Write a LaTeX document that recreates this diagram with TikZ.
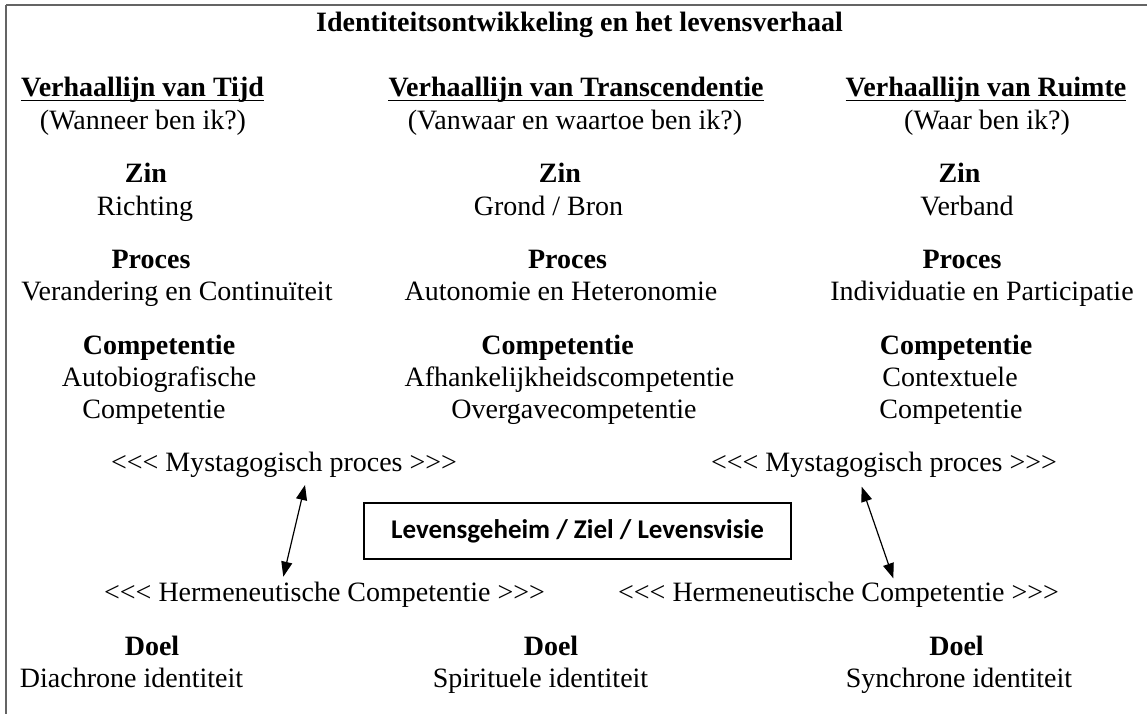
\documentclass[tikz,border=0pt]{standalone}
\usepackage{fontspec}
\setmainfont{Liberation Serif}
\newfontfamily\boxfont{Carlito}
\usetikzlibrary{arrows.meta}
\definecolor{framegray}{RGB}{100,100,100}
\begin{document}
\begin{tikzpicture}[x=1pt,y=-1pt,
  txt/.style={inner sep=0pt,anchor=base,font=\fontsize{28}{32}\selectfont},
  bld/.style={txt,font=\fontsize{28}{32}\selectfont\bfseries},
  ulbox/.style={line width=1.6pt},
  centerbox/.style={draw,line width=1.5pt,minimum width=427pt,minimum height=56pt,inner sep=0pt,
    font=\fontsize{27}{30}\selectfont\boxfont\bfseries},
  dbl/.style={line width=1.2pt,{Triangle[length=15pt,width=11pt]}-{Triangle[length=15pt,width=11pt]}},
  frame/.style={draw=framegray,line width=2pt}]
\useasboundingbox (0,0) rectangle (1147,714);
\draw[frame] (6,5) -- (1147,5);
\draw[frame] (6,5) -- (6,714);

\node[bld] (title) at (579.5,31.7) {Identiteitsontwikkeling en het levensverhaal};

\node[bld] (h1) at (142.5,97) {Verhaallijn van Tijd};
\node[bld] (h2) at (576,97) {Verhaallijn van Transcendentie};
\node[bld] (h3) at (986,97) {Verhaallijn van Ruimte};
\foreach \n in {h1,h2,h3}{\draw[ulbox] ([yshift=-3.5pt]\n.base west) -- ([yshift=-3.5pt]\n.base east);}

\node[txt] (s1) at (143,129.3) {(Wanneer ben ik?)};
\node[txt] (s2) at (575,129.3) {(Vanwaar en waartoe ben ik?)};
\node[txt] (s3) at (987,129.3) {(Waar ben ik?)};

\node[bld] (z1) at (146,182.7) {Zin};
\node[bld] (z2) at (560,182.7) {Zin};
\node[bld] (z3) at (959.5,182.7) {Zin};
\node[txt] (zv1) at (145,215) {Richting};
\node[txt] (zv2) at (548.5,215) {Grond / Bron};
\node[txt] (zv3) at (967,215) {Verband};

\node[bld] (p1) at (151,268.3) {Proces};
\node[bld] (p2) at (567.5,268.3) {Proces};
\node[bld] (p3) at (962,268.3) {Proces};
\node[txt] (pv1) at (177,300.7) {Verandering en Continuïteit};
\node[txt] (pv2) at (561,300.7) {Autonomie en Heteronomie};
\node[txt] (pv3) at (982,300.7) {Individuatie en Participatie};

\node[bld] (c1) at (159,354.3) {Competentie};
\node[bld] (c2) at (557.5,354.3) {Competentie};
\node[bld] (c3) at (956,354.3) {Competentie};
\node[txt] (ca1) at (159,386.7) {Autobiografische};
\node[txt] (ca2) at (569.5,386.7) {Afhankelijkheidscompetentie};
\node[txt] (ca3) at (950,386.7) {Contextuele};
\node[txt] (cb1) at (154,418.3) {Competentie};
\node[txt] (cb2) at (574,418.3) {Overgavecompetentie};
\node[txt] (cb3) at (951,418.3) {Competentie};

\node[txt] (m1) at (284,471.8) {<{}<{}< Mystagogisch proces >{}>{}>};
\node[txt] (m2) at (884,471.8) {<{}<{}< Mystagogisch proces >{}>{}>};

\node[centerbox] (core) at (577.5,531) {Levensgeheim / Ziel / Levensvisie};

\node[txt] (he1) at (324.5,601) {<{}<{}< Hermeneutische Competentie >{}>{}>};
\node[txt] (he2) at (838.5,601) {<{}<{}< Hermeneutische Competentie >{}>{}>};

\node[bld] (d1) at (152,655) {Doel};
\node[bld] (d2) at (551,655) {Doel};
\node[bld] (d3) at (956.5,655) {Doel};
\node[txt] (dv1) at (131.5,687) {Diachrone identiteit};
\node[txt] (dv2) at (540.5,687) {Spirituele identiteit};
\node[txt] (dv3) at (959,687) {Synchrone identiteit};

\coordinate (a1top) at (305,485);
\coordinate (a1bot) at (283.3,576.7);
\coordinate (a2top) at (861.7,486.7);
\coordinate (a2bot) at (893.3,578.3);
\draw[dbl] (a1top) -- (a1bot);
\draw[dbl] (a2top) -- (a2bot);
\end{tikzpicture}
\end{document}
